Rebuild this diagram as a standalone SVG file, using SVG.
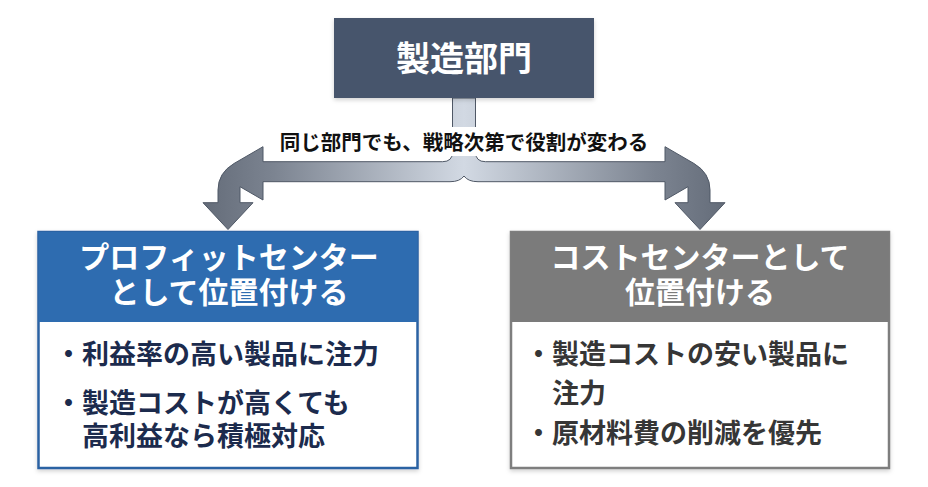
<svg xmlns="http://www.w3.org/2000/svg" width="928" height="487" viewBox="0 0 928 487">
<defs>
<linearGradient id="arrowGrad" gradientUnits="userSpaceOnUse" x1="200" y1="0" x2="728" y2="0">
<stop offset="0" stop-color="#636b78"/>
<stop offset="0.14" stop-color="#7c8491"/>
<stop offset="0.5" stop-color="#d2d9e3"/>
<stop offset="0.86" stop-color="#7c8491"/>
<stop offset="1" stop-color="#636b78"/>
</linearGradient>
<filter id="shadow" x="-10%" y="-10%" width="120%" height="130%">
<feDropShadow dx="0" dy="2" stdDeviation="2" flood-color="#000" flood-opacity="0.18"/>
</filter>
</defs>
<style>
text{font-family:"Noto Sans CJK JP","Noto Sans CJK SC",sans-serif;font-weight:700}
.hd{fill:#ffffff;font-size:30px;text-anchor:middle}
.bl{fill:#1c2b4d;font-size:27px}
.gr{fill:#363636;font-size:27px}
</style>
<rect width="928" height="487" fill="#ffffff"/>
<g id="connectors">
<path d="M 452.5 98 L 452.5 152 Q 452.5 161.7 442.5 161.7 L 263 161.7 L 263 146.7 L 234 163.5 Q 218 173 218 190 L 218 202.7 L 203 202.7 L 228 229.5 L 253 202.7 L 240 202.7 L 240 186.7 L 263 200 L 263 181.7 L 450 181.7 Q 460 181.7 464 176 Q 468 181.7 478 181.7 L 665 181.7 L 665 200 L 688 186.7 L 688 202.7 L 675 202.7 L 700 229.5 L 725 202.7 L 710 202.7 L 710 190 Q 710 173 694 163.5 L 665 146.7 L 665 161.7 L 485.5 161.7 Q 475.5 161.7 475.5 152 L 475.5 98 Z" fill="url(#arrowGrad)" stroke="#4f5866" stroke-width="1"/>
</g>
<g id="label">
<rect x="270" y="127" width="388" height="29" fill="#ffffff"/>
<text x="464" y="150" font-size="20.5" fill="#111111" text-anchor="middle">同じ部門でも、戦略次第で役割が変わる</text>
</g>
<g id="node-top">
<rect x="334" y="18" width="260" height="80" fill="#46546c" filter="url(#shadow)"/>
<text x="464" y="71" font-size="34" fill="#ffffff" text-anchor="middle">製造部門</text>
</g>
<g id="node-profit">
<rect x="38.5" y="232" width="379" height="236" fill="#ffffff" stroke="#2c62a3" stroke-width="2.5" filter="url(#shadow)"/>
<rect x="38.5" y="232" width="379" height="90" fill="#2e6cb0"/>
<text class="hd"><tspan x="229" y="268">プロフィットセンター</tspan><tspan x="229" y="303">として位置付ける</tspan></text>
<text class="bl" x="55" y="364">・利益率の高い製品に注力</text>
<text class="bl"><tspan x="55" y="413">・製造コストが高くても</tspan><tspan x="82" y="446">高利益なら積極対応</tspan></text>
</g>
<g id="node-cost">
<rect x="511" y="232" width="378" height="236" fill="#ffffff" stroke="#7e7e7e" stroke-width="2.5" filter="url(#shadow)"/>
<rect x="511" y="232" width="378" height="90" fill="#7b7b7b"/>
<text class="hd"><tspan x="700" y="268">コストセンターとして</tspan><tspan x="700" y="303">位置付ける</tspan></text>
<text class="gr"><tspan x="525" y="364">・製造コストの安い製品に</tspan><tspan x="552" y="403">注力</tspan></text>
<text class="gr" x="525" y="443">・原材料費の削減を優先</text>
</g>
</svg>
